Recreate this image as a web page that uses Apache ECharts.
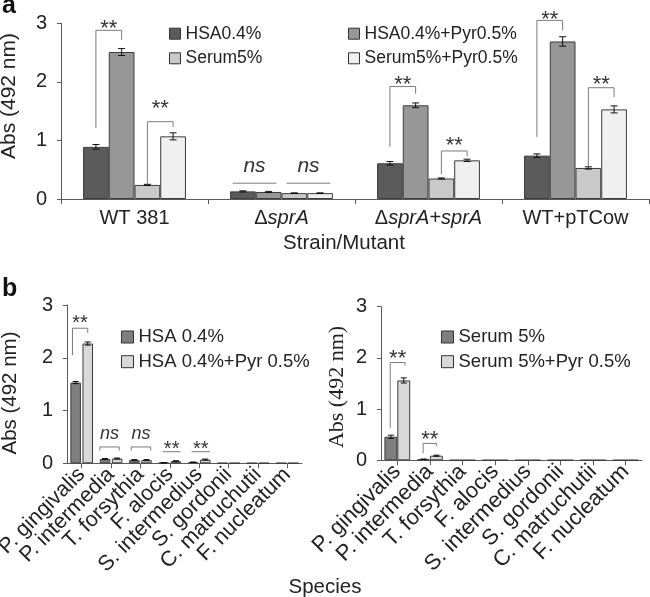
<!DOCTYPE html>
<html>
<head>
<meta charset="utf-8">
<script src="https://cdn.jsdelivr.net/npm/echarts@6/dist/echarts.min.js"></script>
<style>
html,body{margin:0;padding:0;background:#fff;}
#chart{width:650px;height:597px;}
</style>
</head>
<body>
<div id="chart"></div>
<script>
// ---------- Panel a data ----------
const strains = ['WT 381', 'ΔsprA', 'ΔsprA+sprA', 'WT+pTCow'];
const hsa = [0.89, 0.13, 0.61, 0.74];
const hsaErr = [0.04, 0.01, 0.03, 0.03];
const hsaPyr = [2.51, 0.12, 1.60, 2.69];
const hsaPyrErr = [0.06, 0.01, 0.04, 0.08];
const serum = [0.24, 0.10, 0.35, 0.53];
const serumErr = [0.01, 0.005, 0.01, 0.02];
const serumPyr = [1.07, 0.10, 0.66, 1.53];
const serumPyrErr = [0.06, 0.005, 0.02, 0.06];

// ---------- Panel b data ----------
const species = ['P. gingivalis', 'P. intermedia', 'T. forsythia', 'F. alocis', 'S. intermedius', 'S. gordonii', 'C. matruchutii', 'F. nucleatum'];
const spHsa = [1.53, 0.08, 0.06, 0.01, 0.02, 0.005, 0.005, 0.005];
const spHsaErr = [0.02, 0.01, 0.01, 0.005, 0.005, 0, 0, 0];
const spHsaPyr = [2.27, 0.09, 0.06, 0.04, 0.07, 0.005, 0.005, 0.005];
const spHsaPyrErr = [0.03, 0.01, 0.01, 0.01, 0.01, 0, 0, 0];
const spSerum = [0.46, 0.02, 0.004, 0.004, 0.004, 0.004, 0.004, 0.004];
const spSerumErr = [0.03, 0.005, 0, 0, 0, 0, 0, 0];
const spSerumPyr = [1.56, 0.09, 0.004, 0.004, 0.004, 0.004, 0.004, 0.004];
const spSerumPyrErr = [0.05, 0.01, 0, 0, 0, 0, 0, 0];

const yTicks = [0, 1, 2, 3];

// significance annotations: [category, fromSlot, toSlot, leftFoot, top, rightFoot, labelY]
const sigA = [
  [0, 0.5, 1.5, 1.21, 2.88, 2.72, 3.0],
  [0, 2.5, 3.5, 0.25, 1.32, 1.23, 1.63],
  [1, 0.1, 1.8, 0.27, 0.27, 0.27, 0.55],
  [1, 2.2, 3.9, 0.27, 0.27, 0.27, 0.55],
  [2, 0.5, 1.5, 0.89, 1.92, 1.80, 2.04],
  [2, 2.5, 3.5, 0.42, 0.82, 0.73, 1.0],
  [3, 0.5, 1.5, 1.06, 3.05, 2.88, 3.15],
  [3, 2.5, 3.5, 0.55, 1.90, 1.74, 2.03]
];
const sigAText = ['**', '**', 'ns', 'ns', '**', '**', '**', '**'];
const sigB1 = [
  [0, 0.2, 1.5, 2.05, 2.56, 2.47, 2.75],
  [1, 0.0, 1.7, 0.24, 0.31, 0.24, 0.54],
  [2, 0.2, 1.9, 0.24, 0.31, 0.24, 0.54],
  [3, 0.4, 1.95, 0.22, 0.22, 0.22, 0.35],
  [4, 0.35, 1.95, 0.22, 0.22, 0.22, 0.35]
];
const sigB1Text = ['**', 'ns', 'ns', '**', '**'];
const sigB2 = [
  [0, 0.45, 1.6, 0.63, 1.91, 1.85, 2.09],
  [1, 0.47, 1.5, 0.14, 0.33, 0.28, 0.5]
];
const sigB2Text = ['**', '**'];

// ---------- helpers ----------
const FONT = "'Liberation Sans', Arial, sans-serif";
const TXT = '#222';
const AX = '#5a5a5a';

function slotX(api, cat, slot, n, catGap, barGap) {
  const c = api.coord([cat, 0])[0];
  const band = api.size([1, 0])[0];
  const W = band * (1 - catGap);
  const w = W / (n + (n - 1) * barGap);
  const k = Math.floor(slot);
  const f = slot - k;
  return c - W / 2 + k * w * (1 + barGap) + f * w;
}

function errSeries(vals, errs, idx, n, catGap, barGap, axis, capW) {
  return {
    type: 'custom', xAxisIndex: axis, yAxisIndex: axis, silent: true, clip: false, z: 5,
    data: vals.map((v, i) => [i, v, errs[i]]).filter(d => d[2] > 0),
    encode: { x: 0, y: 1 },
    renderItem: function (params, api) {
      const cat = api.value(0), v = api.value(1), e = api.value(2);
      const x = slotX(api, cat, idx + 0.5, n, catGap, barGap);
      const yT = api.coord([cat, v + e])[1];
      const yB = api.coord([cat, v - e])[1];
      const st = { stroke: '#111', lineWidth: 1 };
      return { type: 'group', children: [
        { type: 'line', shape: { x1: x, y1: yT, x2: x, y2: yB }, style: st },
        { type: 'line', shape: { x1: x - capW / 2, y1: yT, x2: x + capW / 2, y2: yT }, style: st },
        { type: 'line', shape: { x1: x - capW / 2, y1: yB, x2: x + capW / 2, y2: yB }, style: st }
      ]};
    }
  };
}

function sigSeries(arr, texts, n, catGap, barGap, axis, starSize, nsSize) {
  return {
    type: 'custom', xAxisIndex: axis, yAxisIndex: axis, silent: true, clip: false, z: 6,
    data: arr,
    encode: { x: 0, y: 4 },
    renderItem: function (params, api) {
      const cat = api.value(0);
      const xa = slotX(api, cat, api.value(1), n, catGap, barGap);
      const xb = slotX(api, cat, api.value(2), n, catGap, barGap);
      const yl = api.coord([cat, api.value(3)])[1];
      const yt = api.coord([cat, api.value(4)])[1];
      const yr = api.coord([cat, api.value(5)])[1];
      const ylab = api.coord([cat, api.value(6)])[1];
      const t = texts[params.dataIndex];
      const isNs = t === 'ns';
      return { type: 'group', children: [
        { type: 'polyline', shape: { points: [[xa, yl], [xa, yt], [xb, yt], [xb, yr]] },
          style: { stroke: '#7a7a7a', lineWidth: 1, fill: null } },
        { type: 'text', style: {
            text: t, x: (xa + xb) / 2, y: isNs ? ylab - 1 : ylab + (starSize * 0.24),
            align: 'center', verticalAlign: 'middle',
            font: (isNs ? 'italic ' : '') + (isNs ? nsSize : starSize) + 'px ' + FONT,
            fill: '#333' } }
      ]};
    }
  };
}

function barSeries(name, data, color, axis, catGap, barGap) {
  return {
    name: name, type: 'bar', xAxisIndex: axis, yAxisIndex: axis, data: data,
    barCategoryGap: catGap, barGap: barGap,
    itemStyle: { color: color, borderColor: '#3c3c3c', borderWidth: 1 },
    emphasis: { disabled: true }, z: 2
  };
}

function yAxis(grid, fs) {
  return {
    type: 'value', gridIndex: grid, min: yTicks[0], max: yTicks[yTicks.length - 1], interval: 1,
    axisLine: { show: true, lineStyle: { color: AX, width: 1 } },
    axisTick: { show: true, length: 4, lineStyle: { color: AX } },
    splitLine: { show: false },
    axisLabel: { fontFamily: FONT, fontSize: fs, color: TXT, margin: 14 }
  };
}

const C1 = '#5b5b5b', C2 = '#979797', C3 = '#c9c9c9', C4 = '#f0f0f0';
const D1 = '#7f7f7f', D2 = '#d9d9d9';

const chart = echarts.init(document.getElementById('chart'), null, { renderer: 'canvas' });

const legendText = { fontFamily: FONT, color: TXT, lineHeight: 18 };

const option = {
  animation: false,
  backgroundColor: '#fff',
  grid: [
    { left: 61, top: 23.3, width: 588, height: 175.7, outerBoundsMode: 'none', containLabel: false },
    { left: 67, top: 305, width: 235, height: 158.3, outerBoundsMode: 'none', containLabel: false },
    { left: 381, top: 306.7, width: 261, height: 153.6, outerBoundsMode: 'none', containLabel: false }
  ],
  xAxis: [
    {
      type: 'category', gridIndex: 0, data: strains,
      axisLine: { lineStyle: { color: AX } },
      axisTick: { show: true, length: 5, lineStyle: { color: AX } },
      axisLabel: {
        interval: 0, hideOverlap: false,
        margin: 9, fontFamily: FONT, fontSize: 20, color: TXT,
        formatter: function (v) {
          if (v.indexOf('Δ') === 0) return '{n|Δ}{i|' + v.slice(1) + '}';
          return v;
        },
        rich: {
          n: { fontFamily: FONT, fontSize: 20, color: TXT },
          i: { fontFamily: FONT, fontSize: 20, color: TXT, fontStyle: 'italic' }
        }
      }
    },
    {
      type: 'category', gridIndex: 1, data: species,
      axisLine: { lineStyle: { color: AX } },
      axisTick: { show: true, alignWithLabel: true, length: 5, lineStyle: { color: AX } },
      axisLabel: { rotate: 45, interval: 0, hideOverlap: false, margin: 8, fontFamily: FONT, fontSize: 21.5, color: TXT }
    },
    {
      type: 'category', gridIndex: 2, data: species,
      axisLine: { lineStyle: { color: AX } },
      axisTick: { show: true, alignWithLabel: true, length: 5, lineStyle: { color: AX } },
      axisLabel: { rotate: 45, interval: 0, hideOverlap: false, margin: 8, fontFamily: FONT, fontSize: 22, color: TXT }
    }
  ],
  yAxis: [yAxis(0, 20), yAxis(1, 20), yAxis(2, 20)],
  legend: [
    { data: ['HSA0.4%', 'Serum5%'], orient: 'vertical', left: 164, top: 19.7, itemGap: 6.6,
      itemWidth: 11, itemHeight: 11, icon: 'rect', selectedMode: false,
      itemStyle: { borderColor: '#333', borderWidth: 1 },
      textStyle: Object.assign({ fontSize: 17.5 }, legendText) },
    { data: ['HSA0.4%+Pyr0.5%', 'Serum5%+Pyr0.5%'], orient: 'vertical', left: 343, top: 19.7, itemGap: 6.6,
      itemWidth: 11, itemHeight: 11, icon: 'rect', selectedMode: false,
      itemStyle: { borderColor: '#333', borderWidth: 1 },
      textStyle: Object.assign({ fontSize: 17.5 }, legendText) },
    { data: ['HSA 0.4%', 'HSA 0.4%+Pyr 0.5%'], orient: 'vertical', left: 116, top: 322.5, itemGap: 5.7,
      itemWidth: 12, itemHeight: 12, icon: 'rect', selectedMode: false,
      itemStyle: { borderColor: '#333', borderWidth: 1 },
      textStyle: Object.assign({ fontSize: 18.5 }, legendText, { lineHeight: 19 }) },
    { data: ['Serum 5%', 'Serum 5%+Pyr 0.5%'], orient: 'vertical', left: 436, top: 322.5, itemGap: 5.7,
      itemWidth: 12, itemHeight: 12, icon: 'rect', selectedMode: false,
      itemStyle: { borderColor: '#333', borderWidth: 1 },
      textStyle: Object.assign({ fontSize: 18.5 }, legendText, { lineHeight: 19 }) }
  ],
  series: [
    barSeries('HSA0.4%', hsa, C1, 0, '30%', '0%'),
    barSeries('HSA0.4%+Pyr0.5%', hsaPyr, C2, 0, '30%', '0%'),
    barSeries('Serum5%', serum, C3, 0, '30%', '0%'),
    barSeries('Serum5%+Pyr0.5%', serumPyr, C4, 0, '30%', '0%'),
    errSeries(hsa, hsaErr, 0, 4, 0.30, 0, 0, 7),
    errSeries(hsaPyr, hsaPyrErr, 1, 4, 0.30, 0, 0, 7),
    errSeries(serum, serumErr, 2, 4, 0.30, 0, 0, 7),
    errSeries(serumPyr, serumPyrErr, 3, 4, 0.30, 0, 0, 7),
    sigSeries(sigA, sigAText, 4, 0.30, 0, 0, 22, 21),

    barSeries('HSA 0.4%', spHsa, D1, 1, '23%', '15%'),
    barSeries('HSA 0.4%+Pyr 0.5%', spHsaPyr, D2, 1, '23%', '15%'),
    errSeries(spHsa, spHsaErr, 0, 2, 0.23, 0.15, 1, 6),
    errSeries(spHsaPyr, spHsaPyrErr, 1, 2, 0.23, 0.15, 1, 6),
    sigSeries(sigB1, sigB1Text, 2, 0.23, 0.15, 1, 20, 18),

    barSeries('Serum 5%', spSerum, D1, 2, '21%', '0%'),
    barSeries('Serum 5%+Pyr 0.5%', spSerumPyr, D2, 2, '21%', '0%'),
    errSeries(spSerum, spSerumErr, 0, 2, 0.21, 0, 2, 6),
    errSeries(spSerumPyr, spSerumPyrErr, 1, 2, 0.21, 0, 2, 6),
    sigSeries(sigB2, sigB2Text, 2, 0.21, 0, 2, 22, 20)
  ],
  graphic: [
    { type: 'text', left: 2, top: -6, style: { text: 'a', font: 'bold 25px ' + FONT, fill: '#111' } },
    { type: 'text', left: 2, top: 277, style: { text: 'b', font: 'bold 25px ' + FONT, fill: '#111' } },
    { type: 'text', x: 9, y: 96, rotation: Math.PI / 2,
      style: { text: 'Abs (492 nm)', font: '21px ' + FONT, fill: TXT, align: 'center', verticalAlign: 'middle' } },
    { type: 'text', x: 344, y: 243,
      style: { text: 'Strain/Mutant', font: '20.5px ' + FONT, fill: TXT, align: 'center', verticalAlign: 'middle' } },
    { type: 'text', x: 10, y: 393, rotation: Math.PI / 2,
      style: { text: 'Abs (492 nm)', font: '20.5px ' + FONT, fill: TXT, align: 'center', verticalAlign: 'middle' } },
    { type: 'text', x: 337, y: 387, rotation: Math.PI / 2,
      style: { text: 'Abs (492 nm)', font: "22px 'Liberation Serif', 'Times New Roman', serif", fill: TXT, align: 'center', verticalAlign: 'middle' } },
    { type: 'text', x: 325, y: 587,
      style: { text: 'Species', font: '20.5px ' + FONT, fill: TXT, align: 'center', verticalAlign: 'middle' } }
  ]
};

chart.setOption(option);
</script>
</body>
</html>
